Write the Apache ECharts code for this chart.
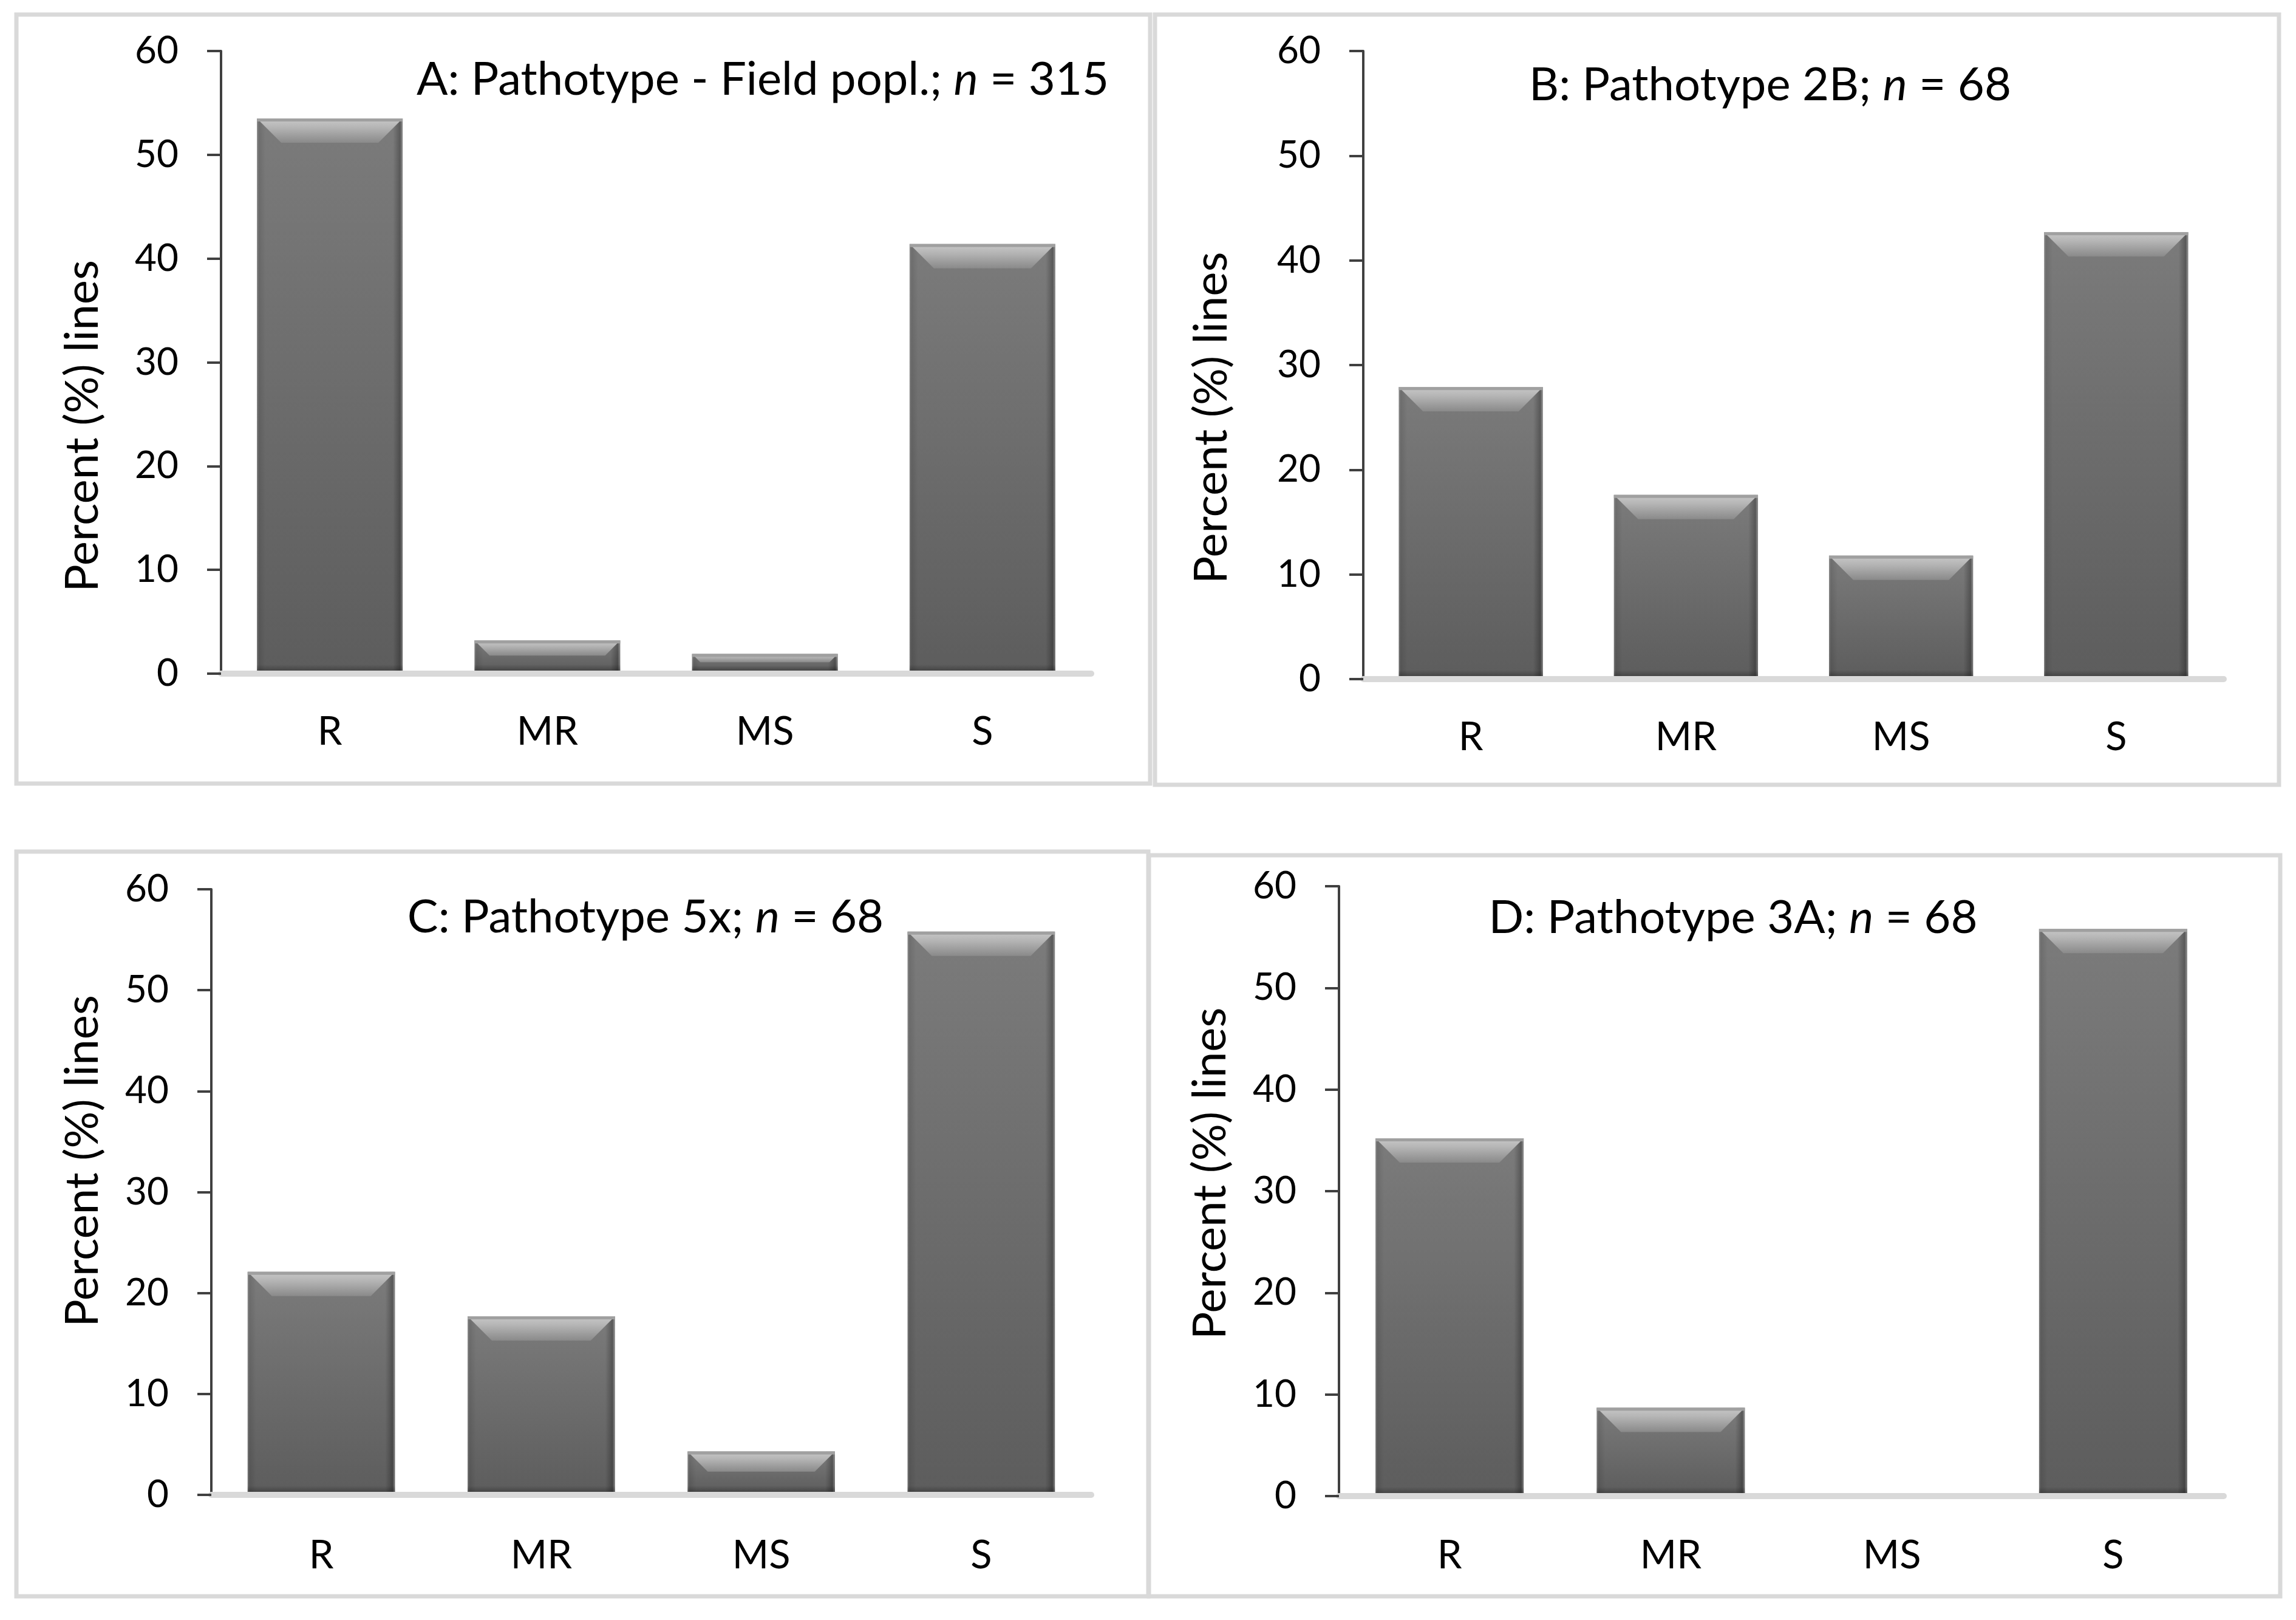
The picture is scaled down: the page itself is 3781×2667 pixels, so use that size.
<!DOCTYPE html>
<html><head><meta charset="utf-8">
<script src="https://cdn.jsdelivr.net/npm/echarts@6/dist/echarts.min.js"></script>
<style>html,body{margin:0;padding:0;background:#fff}#c{width:3781px;height:2667px}</style>
</head><body><div id="c"></div>
<script>
// ---- data ----
const categories = ['R', 'MR', 'MS', 'S'];
const valuesA = [53.5, 3.2, 1.9, 41.4];
const valuesB = [27.9, 17.6, 11.8, 42.7];
const valuesC = [22.1, 17.7, 4.3, 55.8];
const valuesD = [35.2, 8.7, 0, 55.8];
const yMin = 0, yMax = 60, yStep = 10;
const panelTitles = ['A: Pathotype - Field popl.; ', 'B: Pathotype 2B; ', 'C: Pathotype 5x; ', 'D: Pathotype 3A; '];
const panelN = ['315', '68', '68', '68'];
const yAxisTitle = 'Percent (%) lines';

const FONT = 'Lato, "Noto Sans", sans-serif';
const LG = echarts.graphic.LinearGradient;

const layout = [
  {grid: {left: 364, top: 84, width: 1433, height: 1025}, box: [27, 24, 1894, 1290], title: [1256, 131], namePad: [0, 210, 0, 0], nameGap: 190, catMargin: 64},
  {grid: {left: 2245, top: 84, width: 1417, height: 1034}, box: [1902, 24, 3753, 1292], title: [2915, 140], namePad: [0, 174, 0, 0], nameGap: 212, catMargin: 64},
  {grid: {left: 348, top: 1464, width: 1449, height: 997}, box: [27, 1402, 1891, 2628], title: [1063, 1510], namePad: [0, 0, 0, 102], nameGap: 174, catMargin: 68},
  {grid: {left: 2205, top: 1459, width: 1457, height: 1004}, box: [1892, 1408, 3755, 2628], title: [2854, 1511], namePad: [0, 0, 0, 58], nameGap: 174, catMargin: 66}
];
const allValues = [valuesA, valuesB, valuesC, valuesD];

function renderBevelBar(params, api) {
  const v = api.value(1);
  if (!(v > 0)) return null;
  const top = api.coord([api.value(0), v]);
  const base = api.coord([api.value(0), 0]);
  const w = api.size([1, 0])[0] * 0.67;
  const x = top[0] - w / 2, y = top[1];
  const h = base[1] - 5 - y;
  if (h <= 0) return null;
  const b = Math.min(40, h * 0.5);
  return {
    type: 'group',
    children: [
      {type: 'rect', shape: {x, y, width: w, height: h},
        style: {fill: new LG(0, 0, 0, 1, [{offset: 0, color: '#7b7b7b'}, {offset: 1, color: '#5d5d5d'}])}},
      {type: 'rect', shape: {x, y, width: 14, height: h},
        style: {fill: new LG(0, 0, 1, 0, [{offset: 0, color: 'rgba(255,255,255,0.16)'}, {offset: 0.25, color: 'rgba(0,0,0,0.10)'}, {offset: 1, color: 'rgba(0,0,0,0)'}])}},
      {type: 'rect', shape: {x: x + w - 16, y, width: 16, height: h},
        style: {fill: new LG(0, 0, 1, 0, [{offset: 0, color: 'rgba(0,0,0,0)'}, {offset: 0.75, color: 'rgba(0,0,0,0.28)'}, {offset: 1, color: 'rgba(255,255,255,0.10)'}])}},
      {type: 'rect', shape: {x, y: y + h - Math.min(10, h * 0.3), width: w, height: Math.min(10, h * 0.3)},
        style: {fill: new LG(0, 0, 0, 1, [{offset: 0, color: 'rgba(0,0,0,0)'}, {offset: 1, color: 'rgba(0,0,0,0.25)'}])}},
      {type: 'polygon', shape: {points: [[x, y], [x + w, y], [x + w - b, y + b], [x + b, y + b]]},
        style: {fill: new LG(0, 0, 0, 1, [{offset: 0, color: '#c8c8c8'}, {offset: 0.35, color: '#b6b6b6'}, {offset: 1, color: '#8a8a8a'}])}},
      {type: 'rect', shape: {x, y, width: w, height: Math.min(5, h * 0.2)}, style: {fill: '#a0a0a0'}}
    ]
  };
}

const grids = [], xAxes = [], yAxes = [], series = [], graphics = [];
layout.forEach((p, i) => {
  grids.push(Object.assign({outerBoundsMode: 'none', containLabel: false}, p.grid));
  xAxes.push({
    type: 'category', gridIndex: i, data: categories,
    axisTick: {show: false},
    axisLine: {show: true, lineStyle: {color: '#d9d9d9', width: 10}},
    axisLabel: {fontSize: 65, color: '#000', fontFamily: FONT, margin: p.catMargin, interval: 0}
  });
  yAxes.push({
    type: 'value', gridIndex: i, min: yMin, max: yMax, interval: yStep,
    axisLine: {show: true, lineStyle: {color: '#404040', width: 4}},
    axisTick: {show: true, length: 23, lineStyle: {color: '#404040', width: 4}},
    axisLabel: {fontSize: 62, color: '#000', fontFamily: FONT, margin: 70},
    splitLine: {show: false},
    name: yAxisTitle, nameLocation: 'middle', nameGap: p.nameGap,
    nameTextStyle: {fontSize: 76, color: '#000', fontFamily: FONT, padding: p.namePad}
  });
  series.push({
    type: 'custom', xAxisIndex: i, yAxisIndex: i,
    renderItem: renderBevelBar,
    encode: {x: 0, y: 1},
    data: allValues[i].map((v, k) => [k, v])
  });
  const [x1, y1, x2, y2] = p.box;
  graphics.push({type: 'rect', shape: {x: x1, y: y1, width: x2 - x1, height: y2 - y1},
    style: {fill: 'none', stroke: '#d9d9d9', lineWidth: 7}, z: -1});
  graphics.push({type: 'text', x: p.title[0], y: p.title[1], z: 10,
    style: {
      text: '{a|' + panelTitles[i] + '}{i|n}{a| = ' + panelN[i] + '}',
      align: 'center', verticalAlign: 'middle',
      rich: {
        a: {fontSize: 76, fontFamily: FONT, fill: '#000'},
        i: {fontSize: 76, fontFamily: FONT, fontStyle: 'italic', fill: '#000'}
      }
    }});
});

const chart = echarts.init(document.getElementById('c'), null, {renderer: 'canvas'});
chart.setOption({
  backgroundColor: '#fff',
  animation: false,
  grid: grids, xAxis: xAxes, yAxis: yAxes, series: series,
  graphic: graphics
});
</script></body></html>
